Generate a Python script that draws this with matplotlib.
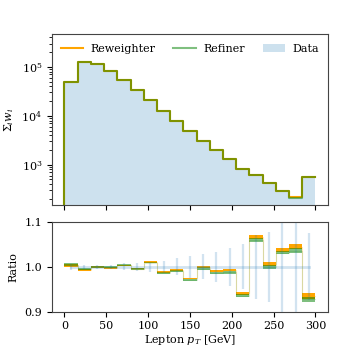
import numpy as np
import matplotlib.pyplot as plt

plt.rcParams['font.family'] = 'DejaVu Serif'
plt.rcParams['mathtext.fontset'] = 'dejavuserif'
plt.rcParams['font.size'] = 8

# 19 bins from 0 to 300 GeV
edges = np.linspace(0, 300, 20)
data_counts = np.array([50000, 124500, 115000, 82800, 54300, 34000, 20900, 12600,
                        7900, 4940, 3090, 2020, 1300, 855, 587, 416, 277, 206, 597])
data_err = np.array([0.0065, 0.005, 0.005, 0.005, 0.0075, 0.009, 0.011, 0.014,
                     0.019, 0.025, 0.028, 0.033, 0.042, 0.05, 0.072, 0.079, 0.2, 0.2, 0.075])

ratio_rw = np.array([1.003, 0.9935, 0.999, 0.9975, 1.003, 0.996, 1.011, 0.988, 0.993,
                     0.974, 1.000, 0.990, 0.993, 0.9405, 1.066, 1.006, 1.0377, 1.0445, 0.9355])
ratio_rf = np.array([1.005, 0.996, 0.9998, 0.999, 1.0037, 0.9957, 1.009, 0.987, 0.990,
                     0.970, 0.996, 0.9865, 0.9875, 0.9355, 1.060, 0.9995, 1.032, 1.0365, 0.927])
err_rw = np.array([0.003, 0.0025, 0.002, 0.002, 0.002, 0.002, 0.0015, 0.0025, 0.003,
                   0.0015, 0.0022, 0.0026, 0.003, 0.0035, 0.0045, 0.0048, 0.0045, 0.0055, 0.0065])
err_rf = np.array([0.003, 0.0022, 0.002, 0.002, 0.002, 0.002, 0.0015, 0.0025, 0.0025,
                   0.0025, 0.0026, 0.0026, 0.0035, 0.0035, 0.0045, 0.0045, 0.0042, 0.0045, 0.005])

rw_counts = data_counts * ratio_rw
rf_counts = data_counts * ratio_rf

centers = 0.5 * (edges[:-1] + edges[1:])
width = edges[1] - edges[0]

fig = plt.figure(figsize=(3.46, 3.46), dpi=100)
ax = fig.add_axes([0.150, 0.4075, 0.798, 0.4942])
rax = fig.add_axes([0.150, 0.0997, 0.798, 0.2583])

# top panel
ax.bar(edges[:-1], data_counts, width=width, align='edge', color='C0', alpha=0.22,
       linewidth=0, label='Data')
xs = np.r_[0, edges]
ax.step(xs, np.r_[1e-3, rw_counts, rw_counts[-1]], where='post', color='orange',
        lw=1.5, label='Reweighter')
ax.step(xs, np.r_[1e-3, rf_counts, rf_counts[-1]], where='post', color='green',
        alpha=0.5, lw=1.5, label='Refiner')
ax.set_yscale('log')
ax.set_ylim(150, 4.7e5)
ax.set_xlim(-15, 315)
ax.set_xticks(np.arange(0, 301, 50))
ax.tick_params(labelbottom=False)
ax.set_ylabel(r'$\Sigma_i w_i$')
h, l = ax.get_legend_handles_labels()
order = [l.index('Reweighter'), l.index('Refiner'), l.index('Data')]
ax.legend([h[i] for i in order], [l[i] for i in order], ncol=3, frameon=False,
          loc='upper center', handlelength=2.0, handletextpad=0.7,
          columnspacing=1.6, fontsize=8)

# ratio panel
rax.errorbar(centers, np.ones_like(centers), yerr=data_err, color='C0', alpha=0.2,
             lw=2, elinewidth=1.6)
rax.step(edges, np.r_[ratio_rw, ratio_rw[-1]], where='post', color='orange', alpha=0.25, lw=0.8)
rax.step(edges, np.r_[ratio_rf, ratio_rf[-1]], where='post', color='green', alpha=0.15, lw=0.8)
rax.bar(edges[:-1], 2 * err_rw, bottom=ratio_rw - err_rw, width=width, align='edge',
        color='orange', linewidth=0)
rax.bar(edges[:-1], 2 * err_rf, bottom=ratio_rf - err_rf, width=width, align='edge',
        color='green', alpha=0.5, linewidth=0)
rax.set_xlim(-15, 315)
rax.set_ylim(0.9, 1.1)
rax.set_xticks(np.arange(0, 301, 50))
rax.set_yticks([0.9, 1.0, 1.1])
rax.set_ylabel('Ratio')
rax.set_xlabel(r'Lepton $p_T$ [GeV]', labelpad=1)

for a in (ax, rax):
    for s in a.spines.values():
        s.set_color('#444444')

fig.align_ylabels([ax, rax])
fig.savefig('out.png', dpi=100)
